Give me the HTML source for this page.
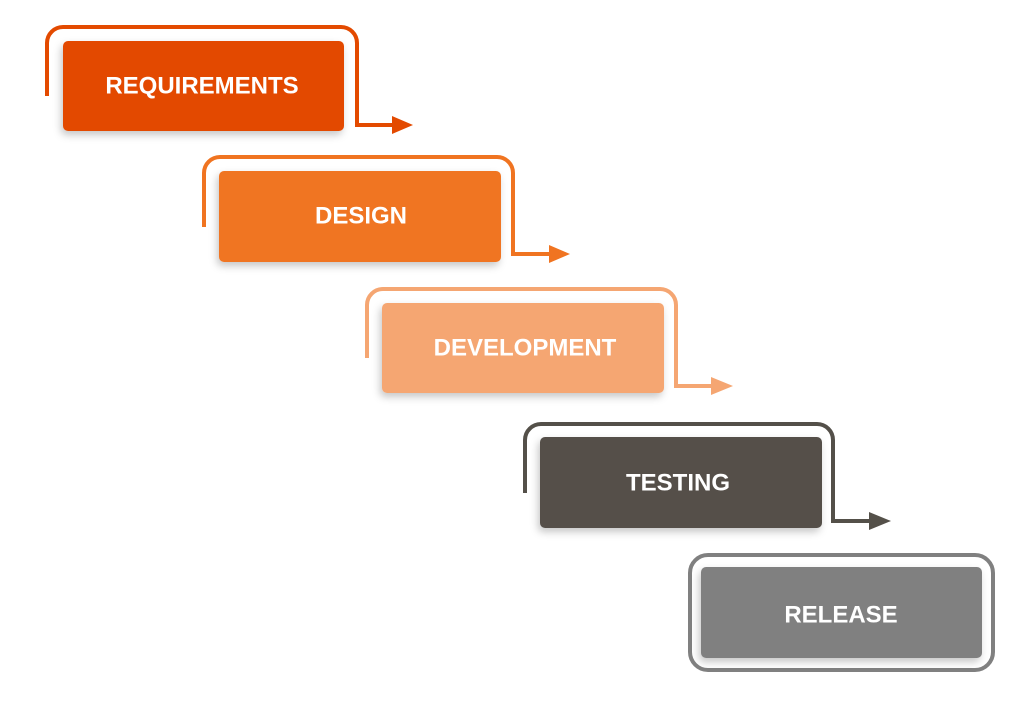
<!DOCTYPE html>
<html><head><meta charset="utf-8"><style>
html,body{margin:0;padding:0;background:#fff;width:1024px;height:701px;overflow:hidden}
text{font-family:"Liberation Sans",sans-serif;font-weight:bold;font-size:24px;fill:#fff;text-anchor:middle;dominant-baseline:central}
</style></head><body>
<svg width="1024" height="701" viewBox="0 0 1024 701" xmlns="http://www.w3.org/2000/svg">
<defs><filter id="s" x="-10%" y="-20%" width="120%" height="150%"><feDropShadow dx="-2" dy="4" stdDeviation="4" flood-color="#000" flood-opacity="0.22"/></filter></defs>
<g fill="none" stroke-width="4">
<path d="M47 96 V43 A16 16 0 0 1 63 27 H341 A16 16 0 0 1 357 43 V125 H396" stroke="#e34a00"/>
<path d="M204 227 V173 A16 16 0 0 1 220 157 H497 A16 16 0 0 1 513 173 V254 H553" stroke="#f07421"/>
<path d="M367 358 V305 A16 16 0 0 1 383 289 H660 A16 16 0 0 1 676 305 V386 H715" stroke="#f5a672"/>
<path d="M525 493 V440 A16 16 0 0 1 541 424 H817 A16 16 0 0 1 833 440 V521 H872" stroke="#545049"/>
<rect x="690" y="555" width="303" height="115" rx="18" stroke="#808080" stroke-width="4"/>
</g>
<polygon points="392,116 413,125 392,134" fill="#e34a00"/>
<polygon points="549,245 570,254 549,263" fill="#f07421"/>
<polygon points="711,377 733,386 711,395" fill="#f5a672"/>
<polygon points="869,512 891,521 869,530" fill="#545049"/>
<rect x="63" y="41" width="281" height="90" rx="5" fill="#e34a00" filter="url(#s)"/>
<rect x="219" y="171" width="282" height="91" rx="5" fill="#f07421" filter="url(#s)"/>
<rect x="382" y="303" width="282" height="90" rx="5" fill="#f5a672" filter="url(#s)"/>
<rect x="540" y="437" width="282" height="91" rx="5" fill="#545049" filter="url(#s)"/>
<rect x="701" y="567" width="281" height="91" rx="5" fill="#808080" filter="url(#s)"/>
<text x="202" y="86">REQUIREMENTS</text>
<text x="361" y="216">DESIGN</text>
<text x="525" y="348">DEVELOPMENT</text>
<text x="678" y="483">TESTING</text>
<text x="841" y="615">RELEASE</text>
</svg>
</body></html>
